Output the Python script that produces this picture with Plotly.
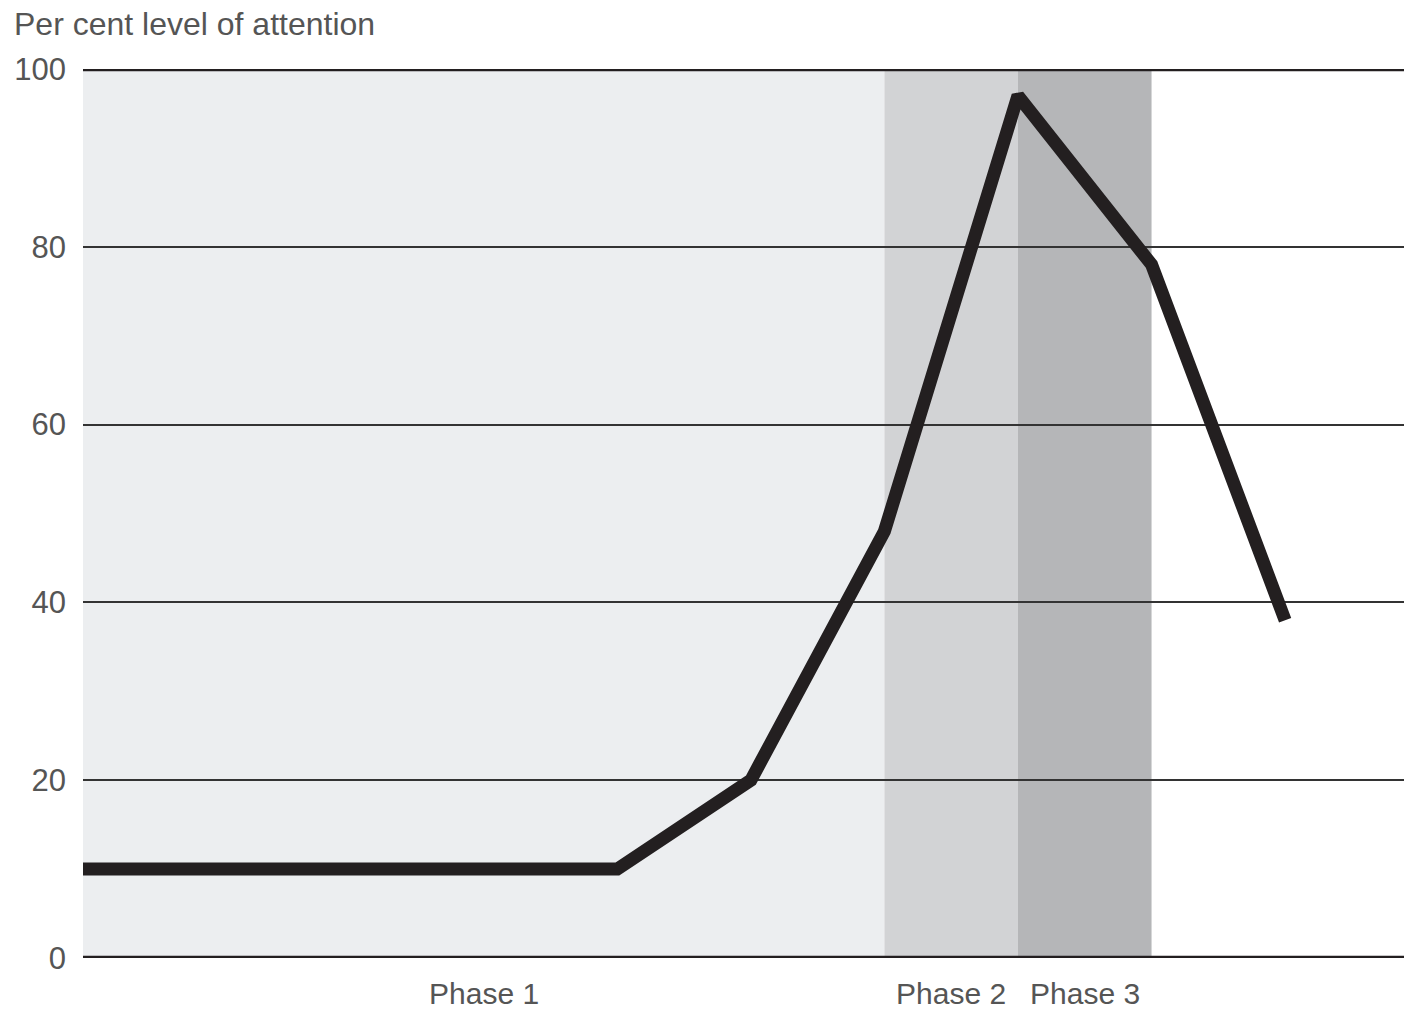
import plotly.graph_objects as go

# Data
x_vals = [0, 4, 5, 6, 7, 8, 9]
attention = [10, 10, 20, 48, 97, 78, 38]
phase_names = ["Phase 1", "Phase 2", "Phase 3"]
phase_starts = [0, 6, 7]
phase_ends = [6, 7, 8]
phase_colors = ["#eceef0", "#d2d3d5", "#b5b6b8"]
y_ticks = [0, 20, 40, 60, 80, 100]

W, H = 1404, 1011
L, R, T, B = 83, 0, 69, 1011 - 958
plot_w = W - L - R
plot_h = H - T - B

FONT = "Liberation Sans, Arial, Helvetica, sans-serif"
TXT = "#555555"

fig = go.Figure()

shapes = []
for s, e, c in zip(phase_starts, phase_ends, phase_colors):
    shapes.append(dict(type="rect", xref="x", yref="y", x0=s, x1=e, y0=0, y1=100,
                       fillcolor=c, line=dict(width=0), layer="below"))
for yv in [0, 100]:
    shapes.append(dict(type="line", xref="paper", yref="y", x0=0, x1=1, y0=yv, y1=yv,
                       line=dict(color="#231f20", width=4.5), layer="above"))

fig.add_trace(go.Scatter(x=x_vals, y=attention, mode="lines",
                         line=dict(color="#231f20", width=13),
                         hoverinfo="skip", showlegend=False, cliponaxis=True))

annotations = [dict(text="Per cent level of attention", xref="paper", yref="paper",
                    x=(12 - L) / plot_w, y=1 + (T - 24) / plot_h, xanchor="left", yanchor="middle",
                    showarrow=False, font=dict(family=FONT, size=32, color=TXT))]
for name, s, e in zip(phase_names, phase_starts, phase_ends):
    annotations.append(dict(text=name, xref="x", yref="paper", x=(s + e) / 2,
                            y=-(994 - 958) / plot_h, xanchor="center", yanchor="middle",
                            showarrow=False, font=dict(family=FONT, size=30, color=TXT)))

fig.update_layout(
    width=W, height=H,
    margin=dict(l=L, r=R, t=T, b=B),
    paper_bgcolor="white", plot_bgcolor="white",
    shapes=shapes, annotations=annotations,
    xaxis=dict(range=[0, 9.89], showgrid=False, zeroline=False, showticklabels=False,
               showline=False, fixedrange=True),
    yaxis=dict(range=[0, 100], tickvals=y_ticks, ticktext=[str(v) for v in y_ticks],
               showgrid=True, gridcolor="#333333", gridwidth=1.6, zeroline=False,
               showline=False, ticks="", ticklabelstandoff=16,
               tickfont=dict(family=FONT, size=31, color=TXT), fixedrange=True),
)

fig.write_html("out.html", config={"displayModeBar": False},
               post_script="document.body.style.margin='0';document.body.style.overflow='hidden';")
